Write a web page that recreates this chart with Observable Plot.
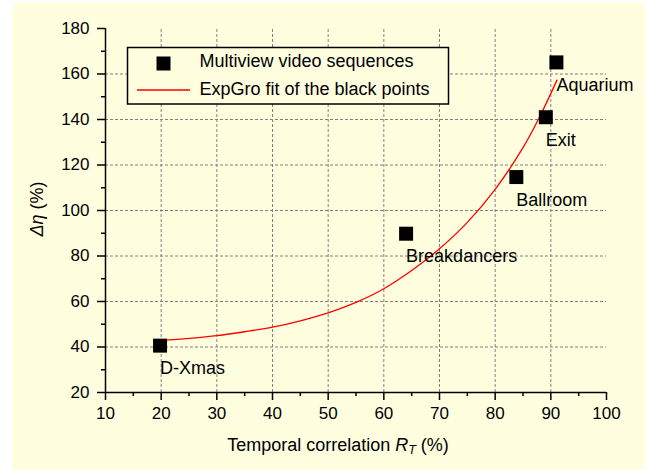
<!DOCTYPE html>
<html>
<head>
<meta charset="utf-8">
<script src="https://cdn.jsdelivr.net/npm/d3@7"></script>
<script src="https://cdn.jsdelivr.net/npm/@observablehq/plot@0.6"></script>
<style>
  html, body { margin: 0; padding: 0; background: #ffffff; }
  #chart svg {
    display: block;
    background: linear-gradient(#FFFFE0, #FFFFE0) 12px 3px / 633px 467px no-repeat !important;
  }
</style>
</head>
<body>
<div id="chart"></div>
<script>
// Multiview sequences: temporal correlation vs. gain
const sequences = ["D-Xmas", "Breakdancers", "Ballroom", "Exit", "Aquarium"];
const correlation = [19.8, 64.0, 83.8, 89.1, 91.0];
const gain = [40.6, 89.8, 114.7, 141.0, 165.1];

// ExpGro fit curve, sampled along x
const fitX = [19.8, 25, 30, 35, 40, 45, 50, 55, 60, 65, 70, 75, 80, 85, 88, 91.1];
const fitY = [42.8, 43.8, 45.0, 46.7, 48.7, 51.5, 55.0, 59.6, 65.6, 73.6, 83.2, 94.8, 109.3, 127.6, 141.2, 157.3];

// Axis ticks
const xMajor = [10, 20, 30, 40, 50, 60, 70, 80, 90, 100];
const xMinor = [15, 25, 35, 45, 55, 65, 75, 85, 95];
const yMajor = [20, 40, 60, 80, 100, 120, 140, 160, 180];
const yMinor = [30, 50, 70, 90, 110, 130, 150, 170];
const xGrid = [20, 30, 40, 50, 60, 70, 80, 90];
const yGrid = [40, 60, 80, 100, 120, 140, 160];

const points = sequences.map((name, i) => ({name, x: correlation[i], y: gain[i]}));
const fit = fitX.map((x, i) => ({x, y: fitY[i]}));

const font = "'Liberation Sans', Arial, sans-serif";
const gridStyle = {stroke: "#808080", strokeWidth: 1, strokeDasharray: "3,2"};

const chart = Plot.plot({
  width: 651,
  height: 470,
  marginLeft: 105,
  marginRight: 45,
  marginTop: 28,
  marginBottom: 78,
  style: {fontFamily: font, fontSize: "17px", color: "#000", overflow: "visible"},
  x: {domain: [10, 100]},
  y: {domain: [20, 180]},
  marks: [
    Plot.ruleX(xGrid, {x: d => d, y1: 20, y2: 180, ...gridStyle}),
    Plot.ruleY(yGrid, {y: d => d, x1: 10, x2: 100, ...gridStyle}),
    Plot.axisX(xMajor, {tickSize: 8, tickPadding: 6, strokeWidth: 1.5, label: null}),
    Plot.axisX(xMinor, {tickSize: 4, strokeWidth: 1.5, text: null, label: null}),
    Plot.axisY(yMajor, {tickSize: 8, tickPadding: 8, strokeWidth: 1.5, label: null}),
    Plot.axisY(yMinor, {tickSize: 4, strokeWidth: 1.5, text: null, label: null}),
    Plot.ruleY([20], {stroke: "#000", strokeWidth: 1.5}),
    Plot.ruleX([10], {stroke: "#000", strokeWidth: 1.5}),
    Plot.line(fit, {x: "x", y: "y", stroke: "#ff0000", strokeWidth: 1.3, curve: "catmull-rom"}),
    Plot.dot(points, {x: "x", y: "y", symbol: "square", r: 7.9, fill: "#000", stroke: "none"}),
    Plot.text(points, {x: "x", y: "y", text: "name", textAnchor: "start", dy: 23, fontSize: 18, fill: "#000"})
  ]
});

document.getElementById("chart").appendChild(chart);

const svg = d3.select(chart);

// Axis titles with italic symbols
const xTitle = svg.append("text")
  .attr("x", 338).attr("y", 451)
  .attr("text-anchor", "middle")
  .style("font-family", font).style("font-size", "18px").attr("fill", "#000");
xTitle.append("tspan").text("Temporal correlation ");
xTitle.append("tspan").attr("font-style", "italic").text("R");
xTitle.append("tspan").attr("font-style", "italic").attr("font-size", "12.5px").attr("dy", 3).text("T");
xTitle.append("tspan").attr("dy", -3).text(" (%)");

const yTitle = svg.append("text")
  .attr("transform", "translate(42.5,209) rotate(-90)")
  .attr("text-anchor", "middle")
  .style("font-family", font).style("font-size", "18px").attr("fill", "#000");
yTitle.append("tspan").attr("font-style", "italic").text("Δη");
yTitle.append("tspan").text(" (%)");

// Legend
const legend = svg.append("g")
  .attr("text-anchor", "start")
  .style("font-family", font).style("font-size", "18px");
legend.append("rect")
  .attr("x", 127.5).attr("y", 47.5).attr("width", 321).attr("height", 56.5)
  .attr("fill", "#FFFFE0").attr("stroke", "#000").attr("stroke-width", 1.5);
legend.append("rect")
  .attr("x", 156.5).attr("y", 56.5).attr("width", 14).attr("height", 14).attr("fill", "#000");
legend.append("text").attr("x", 199.5).attr("y", 67).attr("fill", "#000").text("Multiview video sequences");
legend.append("line")
  .attr("x1", 137).attr("x2", 190).attr("y1", 90).attr("y2", 90)
  .attr("stroke", "#ff0000").attr("stroke-width", 1.3);
legend.append("text").attr("x", 199.5).attr("y", 95).attr("fill", "#000").text("ExpGro fit of the black points");
</script>
</body>
</html>
